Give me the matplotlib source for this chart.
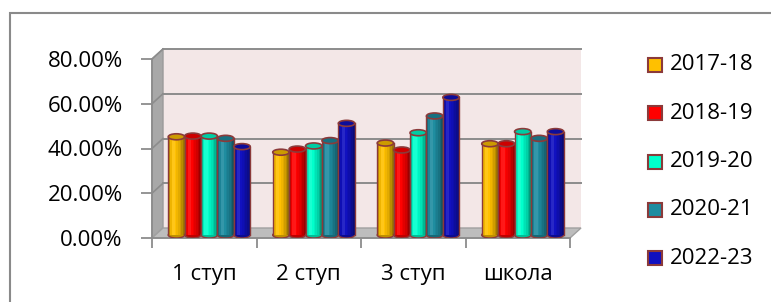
import matplotlib
matplotlib.use('Agg')
import matplotlib.pyplot as plt
import numpy as np
from matplotlib.patches import Rectangle, Polygon, Ellipse
from matplotlib.transforms import ScaledTranslation, IdentityTransform
from matplotlib.ticker import PercentFormatter

plt.rcParams['font.family'] = ['Open Sans', 'DejaVu Sans']

categories = ['1 ступ', '2 ступ', '3 ступ', 'школа']
years = ['2017-18', '2018-19', '2019-20', '2020-21', '2022-23']
v_2017 = [0.439, 0.370, 0.411, 0.408]
v_2018 = [0.442, 0.384, 0.380, 0.408]
v_2019 = [0.442, 0.398, 0.457, 0.462]
v_2020 = [0.432, 0.422, 0.532, 0.432]
v_2022 = [0.395, 0.499, 0.615, 0.462]
series = [v_2017, v_2018, v_2019, v_2020, v_2022]

colors = ['#FFC000', '#FF0000', '#00FFCC', '#1E8CA0', '#1010C0']
edge = '#8B3A3A'
grid_c = '#8C8C8C'

W, H = 771, 302
fig = plt.figure(figsize=(W / 100, H / 100), dpi=100)
ax = fig.add_axes([152 / W, 64 / H, 418 / W, 179 / H])
ax.set_autoscale_on(False)
ax.set_xlim(-0.5, 3.5)
ax.set_ylim(0, 0.8)
ax.patch.set_visible(False)


def shifted(dx, dy):
    # offset in pixels, used for the fake 3d depth
    return ax.transData + ScaledTranslation(dx / 100, dy / 100, fig.dpi_scale_trans)


yticks = [0, 0.2, 0.4, 0.6, 0.8]
DX, DY = 11, 10

# back wall
wall = Rectangle((-0.5, 0), 4, 0.8, transform=shifted(DX, DY),
                 facecolor='#F3E7E7', edgecolor='none', zorder=0)
wall.set_clip_on(False)
ax.add_patch(wall)
for t in yticks[1:]:
    ax.plot([-0.5, 3.5], [t, t], transform=shifted(DX, DY), color=grid_c,
            lw=1.4, zorder=1, clip_on=False)

# side wall and floor in pixel coordinates
fig.canvas.draw()
td = ax.transData
a = td.transform((-0.5, 0))
b = td.transform((-0.5, 0.8))
c = td.transform((3.5, 0))
d = np.array([DX, DY])
side = Polygon([a, a + d, b + d, b], closed=True, transform=IdentityTransform(),
               facecolor='#A8A8A8', edgecolor='#9A9A9A', lw=1, zorder=0.5)
floor = Polygon([a, a + d, c + d, c], closed=True, transform=IdentityTransform(),
                facecolor='#BDBDBD', edgecolor='#A0A0A0', lw=1, zorder=0.5)
ax.add_artist(side)
ax.add_artist(floor)
side.set_clip_on(False)
floor.set_clip_on(False)
for t in yticks[1:]:
    p = td.transform((-0.5, t))
    ln = plt.Line2D([p[0], p[0] + DX], [p[1], p[1] + DY], transform=IdentityTransform(),
                    color=grid_c, lw=1.2, zorder=0.6)
    ln.set_clip_on(False)
    ax.add_artist(ln)

# cylinders
bw = 0.157
x = np.arange(len(categories))
bar_tr = shifted(5, 3)
ell_h = 6 / (179 / 0.8)
nstrip = 10
u = (np.arange(nstrip) + 0.5) / nstrip


def shade(col, f):
    rgb = np.array(matplotlib.colors.to_rgb(col))
    if f >= 1:
        return tuple(rgb + (1 - rgb) * (f - 1))
    return tuple(rgb * f)


prof = np.where(u < 0.3, 1 - 0.35 * ((0.3 - u) / 0.3) ** 2,
                1 - 0.45 * ((u - 0.3) / 0.7) ** 2) + 0.12 * np.exp(-((u - 0.3) / 0.12) ** 2)

for j, vals in enumerate(series):
    xs = x - 2.5 * bw + (j + 0.5) * bw
    for xi, v in zip(xs, vals):
        z = 3 + j * 0.01
        ax.add_patch(Ellipse((xi, 0), bw, ell_h, transform=bar_tr,
                             facecolor=shade(colors[j], 0.75), edgecolor=edge, lw=1, zorder=z))
        for k in range(nstrip):
            ax.bar(xi - bw / 2 + (k + 0.5) * bw / nstrip, v, bw / nstrip, transform=bar_tr,
                   color=shade(colors[j], prof[k]), edgecolor='none', lw=0,
                   zorder=z + 0.001, antialiased=False)
        ax.plot([xi - bw / 2, xi - bw / 2], [0, v], transform=bar_tr, color=edge, lw=1, zorder=z + 0.002)
        ax.plot([xi + bw / 2, xi + bw / 2], [0, v], transform=bar_tr, color=edge, lw=1, zorder=z + 0.002)
        ax.add_patch(Ellipse((xi, v), bw, ell_h, transform=bar_tr,
                             facecolor=shade(colors[j], 0.8), edgecolor=edge, lw=1.2, zorder=z + 0.003))

# axes
for s in ['top', 'right']:
    ax.spines[s].set_visible(False)
for s in ['left', 'bottom']:
    ax.spines[s].set_color(grid_c)
    ax.spines[s].set_linewidth(1.3)
ax.set_yticks(yticks)
ax.yaxis.set_major_formatter(PercentFormatter(1.0, decimals=2))
ax.tick_params(axis='y', direction='out', length=8, width=1.3, color=grid_c, pad=13, labelsize=16)
ax.set_xticks(x)
ax.set_xticklabels(categories)
ax.set_xticks(np.arange(-0.5, 4, 1), minor=True)
ax.tick_params(axis='x', which='major', length=0, pad=19, labelsize=16)
ax.tick_params(axis='x', which='minor', direction='out', length=7, width=1.3, color=grid_c)

# legend
for j, name in enumerate(years):
    yc = 65 + j * 48.25
    fig.add_artist(Rectangle((648 / W, 1 - (yc + 7) / H), 14 / W, 14 / H, transform=fig.transFigure,
                             facecolor=colors[j], edgecolor=edge, lw=1.5))
    fig.text(670 / W, 1 - yc / H, name, fontsize=16, va='center', ha='left')

# chart border
fig.add_artist(Rectangle((10 / W, -0.1), 1, (H - 13) / H + 0.1, transform=fig.transFigure,
                         fill=False, edgecolor='#8A8A8A', lw=1.5))

fig.savefig('out.png', dpi=100)
